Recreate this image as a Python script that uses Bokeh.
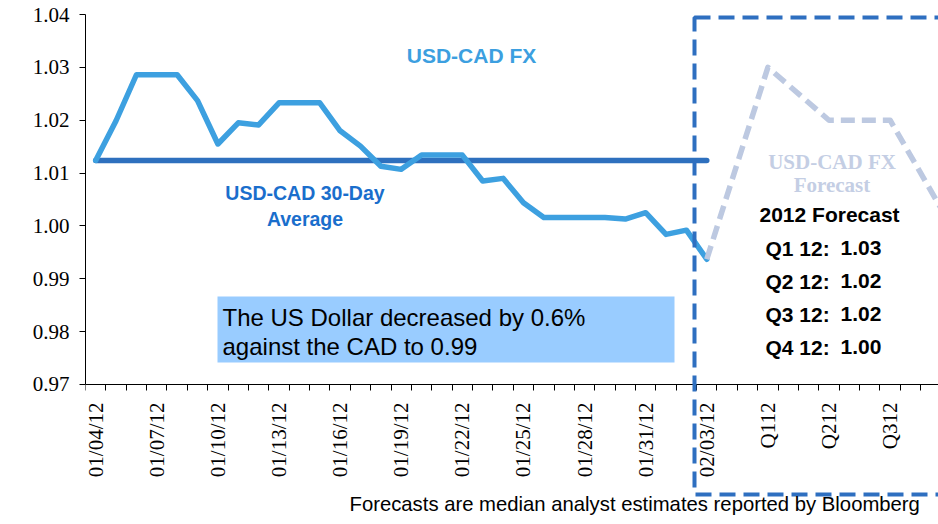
import math
from bokeh.plotting import figure
from bokeh.models import Range1d, FixedTicker, PrintfTickFormatter, Label, BoxAnnotation
from bokeh.embed import file_html
from bokeh.resources import INLINE

# ---------------- data ----------------
dates = ["01/04/12", "01/05/12", "01/06/12", "01/07/12", "01/08/12", "01/09/12",
         "01/10/12", "01/11/12", "01/12/12", "01/13/12", "01/14/12", "01/15/12",
         "01/16/12", "01/17/12", "01/18/12", "01/19/12", "01/20/12", "01/21/12",
         "01/22/12", "01/23/12", "01/24/12", "01/25/12", "01/26/12", "01/27/12",
         "01/28/12", "01/29/12", "01/30/12", "01/31/12", "02/01/12", "02/02/12",
         "02/03/12"]
forecast_periods = ["", "", "Q112", "", "", "Q212", "", "", "Q312", "", "", "Q412"]
categories = dates + forecast_periods

usd_cad = [1.0124, 1.0199, 1.0286, 1.0286, 1.0286, 1.0237, 1.0155, 1.0195, 1.0191,
           1.0233, 1.0233, 1.0233, 1.0180, 1.0151, 1.0113, 1.0107, 1.0134, 1.0134,
           1.0134, 1.0085, 1.0090, 1.0044, 1.0016, 1.0016, 1.0016, 1.0016, 1.0013,
           1.0025, 0.9984, 0.9992, 0.9937]
avg_30day = 1.0124

forecast_cats = ["02/03/12", "Q112", "Q212", "Q312", "Q412"]
forecast_vals = [0.9937, 1.03, 1.02, 1.02, 1.00]
quarter_names = ["Q1 12:", "Q2 12:", "Q3 12:", "Q4 12:"]

y_ticks = [0.97, 0.98, 0.99, 1.00, 1.01, 1.02, 1.03, 1.04]
label_step = 3

# ---------------- layout helpers (reference pixel -> data) ----------------
X0 = 85.0       # x of category boundary -0.5
CW = 20.37      # px per category
Y0 = 14.0       # y of 1.04
PPU = 5285.7    # px per unit of y
W, H = 938, 524
def dx(px):
    return (px - X0) / CW - 0.5
def dy(py):
    return 1.04 - (py - Y0) / PPU

p = figure(width=W, height=H, output_backend="svg", toolbar_location=None,
           x_range=Range1d(-0.5, dx(W)), y_range=Range1d(dy(H), 1.04),
           min_border_left=int(X0), min_border_right=0,
           min_border_top=int(Y0), min_border_bottom=0)
p.outline_line_color = None
p.xgrid.visible = False
p.ygrid.visible = False
p.background_fill_color = "white"

# ---------------- axes ----------------
xa = p.xaxis[0]
xa.fixed_location = y_ticks[0]
major = list(range(0, len(categories), label_step))
xa.ticker = FixedTicker(ticks=major, minor_ticks=[i - 0.5 for i in range(len(categories) + 1)])
xa.major_label_overrides = {i: categories[i] for i in major}
xa.major_label_orientation = math.pi / 2
xa.major_tick_out = 0
xa.major_tick_in = 0
xa.minor_tick_out = 6
xa.minor_tick_in = 0
xa.minor_tick_line_color = "black"
xa.axis_line_color = "black"
xa.major_label_standoff = 12
xa.major_label_text_font = "Liberation Serif"
xa.major_label_text_font_size = "21px"
xa.major_label_text_color = "black"

ya = p.yaxis[0]
ya.bounds = (y_ticks[0], y_ticks[-1])
ya.ticker = FixedTicker(ticks=y_ticks, minor_ticks=[])
ya.formatter = PrintfTickFormatter(format="%.2f")
ya.major_tick_out = 6
ya.major_tick_in = 0
ya.axis_line_color = "black"
ya.major_tick_line_color = "black"
ya.major_label_standoff = 10
ya.major_label_text_font = "Liberation Serif"
ya.major_label_text_font_size = "21px"
ya.major_label_text_color = "black"

# ---------------- lines ----------------
hist_x = list(range(len(usd_cad)))
p.line(hist_x, [avg_30day] * len(hist_x), line_color="#2E70BE", line_width=5.5, line_cap="round")
p.line(hist_x, usd_cad, line_color="#3DA0E0", line_width=5.5, line_join="round", line_cap="round")
fc_x = [categories.index(c) for c in forecast_cats]
p.line(fc_x, forecast_vals, line_color="#BDC9E1", line_width=5.5, line_dash="14 7", line_join="round")

# ---------------- annotations ----------------
p.add_layout(BoxAnnotation(left=dx(217), right=dx(674), top=dy(296), bottom=dy(362),
                           fill_color="#99CCFF", fill_alpha=1.0, line_color=None))
p.add_layout(BoxAnnotation(left=dx(694), right=dx(1100), top=dy(17), bottom=dy(494),
                           fill_alpha=0, line_color="#2E6FC0", line_alpha=1.0,
                           line_width=4, line_dash="16 8"))

def label(text, px, py, size, color, bold=False, font="Liberation Sans", align="left"):
    p.add_layout(Label(x=dx(px), y=dy(py), text=text, text_font=font,
                       text_font_size=f"{size}px",
                       text_font_style="bold" if bold else "normal",
                       text_color=color, text_align=align, text_baseline="middle"))

label("USD-CAD FX", 471, 54.5, 21, "#3C9FE0", bold=True, align="center")
label("USD-CAD 30-Day", 304.5, 192.5, 19.5, "#1A6ECC", bold=True, align="center")
label("Average", 304.5, 218, 19.5, "#1A6ECC", bold=True, align="center")
label("The US Dollar decreased by 0.6%", 222, 316.7, 24, "black")
label("against the CAD to 0.99", 222, 346, 24, "black")
label("USD-CAD FX", 831.5, 161.7, 21, "#C4CEE4", bold=True, font="Liberation Serif", align="center")
label("Forecast", 831.5, 184, 21, "#C4CEE4", bold=True, font="Liberation Serif", align="center")
label("2012 Forecast", 759, 214, 21, "black", bold=True)
for k, (qn, qv) in enumerate(zip(quarter_names, forecast_vals[1:])):
    label(qn, 765, 247.5 + 33 * k, 21, "black", bold=True)
    label(f"{qv:.2f}", 840, 247.5 + 33 * k, 21, "black", bold=True)
label("Forecasts are median analyst estimates reported by Bloomberg", 349, 503.3, 20.3, "black")

open("out.html", "w").write(file_html(p, INLINE))
